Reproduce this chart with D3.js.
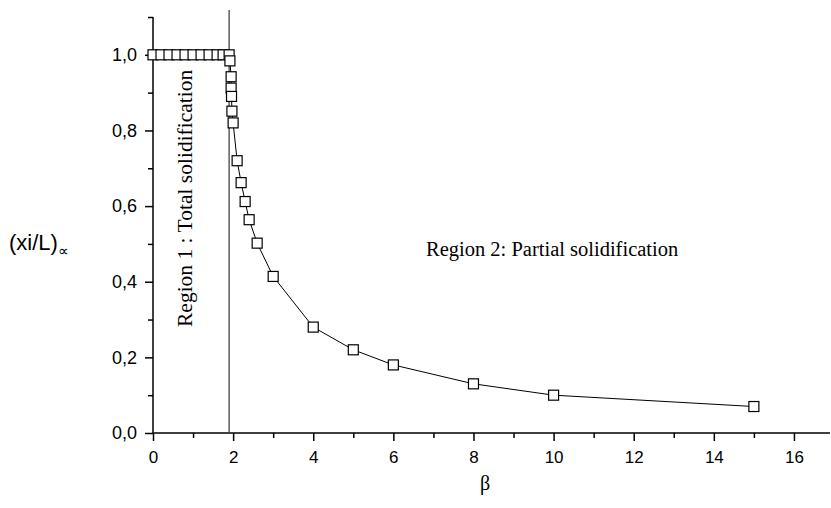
<!DOCTYPE html>
<html>
<head>
<meta charset="utf-8">
<script src="https://cdn.jsdelivr.net/npm/d3@7"></script>
<style>
  body { margin: 0; background: #fff; }
  svg { display: block; }
</style>
</head>
<body>
<div id="chart"></div>
<script>
// values
const beta = [0, 0.2, 0.4, 0.6, 0.8, 1.0, 1.2, 1.4, 1.6, 1.75, 1.9,
              1.92, 1.95, 1.95, 1.96, 1.97, 2.0, 2.1, 2.2, 2.3, 2.4, 2.6, 3, 4, 5, 6, 8, 10, 15];
const xiL = [1, 1, 1, 1, 1, 1, 1, 1, 1, 1, 1,
             0.984, 0.942, 0.912, 0.89, 0.851, 0.82, 0.72, 0.662, 0.612, 0.564, 0.502, 0.414, 0.28, 0.22, 0.18, 0.13, 0.10, 0.07];
const xMajor = [0, 2, 4, 6, 8, 10, 12, 14, 16];
const xMinor = [1, 3, 5, 7, 9, 11, 13, 15];
const yMajor = [0, 0.2, 0.4, 0.6, 0.8, 1.0];
const yMinor = [0.1, 0.3, 0.5, 0.7, 0.9, 1.1];
const betaCritical = 1.9;

const width = 831, height = 508;
const points = beta.map((b, i) => ({ b: b, v: xiL[i] }));

const svg = d3.select("#chart").append("svg")
    .attr("width", width)
    .attr("height", height);

const x = d3.scaleLinear().domain([0, 16.9]).range([153, 830]);
const y = d3.scaleLinear().domain([0, 1.1]).range([433, 17]);
const fmt = d => d3.format(".1f")(d).replace(".", ",");

// x axis
const xAxis = svg.append("g").attr("transform", `translate(0,${y(0)})`);
xAxis.call(d3.axisBottom(x).tickValues(xMajor).tickSize(8).tickFormat(d3.format("d")))
    .call(g => g.select(".domain").remove());
xAxis.append("g").call(d3.axisBottom(x).tickValues(xMinor).tickSize(5).tickFormat(""))
    .call(g => g.select(".domain").remove());
xAxis.append("line").attr("x1", x(0)).attr("x2", 830).attr("stroke", "#000").attr("stroke-width", 1.5);

// y axis
const yAxis = svg.append("g").attr("transform", `translate(${x(0)},0)`);
yAxis.call(d3.axisLeft(y).tickValues(yMajor).tickSize(8).tickFormat(fmt))
    .call(g => g.select(".domain").remove());
yAxis.append("g").call(d3.axisLeft(y).tickValues(yMinor).tickSize(5).tickFormat(""))
    .call(g => g.select(".domain").remove());
yAxis.append("line").attr("y1", y(0)).attr("y2", y(1.1)).attr("stroke", "#000").attr("stroke-width", 1.5);

svg.selectAll(".tick line").attr("stroke", "#000").attr("stroke-width", 1.5);
svg.selectAll(".tick text")
    .attr("font-family", "Liberation Sans, Arial, sans-serif")
    .attr("fill", "#000");
xAxis.selectAll(".tick text").attr("font-size", 17).attr("y", 30).attr("dy", 0);
yAxis.selectAll(".tick text").attr("font-size", 18).attr("x", -16);

// boundary between the two regions
svg.append("line")
    .attr("x1", x(betaCritical)).attr("x2", x(betaCritical))
    .attr("y1", 10).attr("y2", y(0))
    .attr("stroke", "#444")
    .attr("stroke-width", 1.3);

// curve and markers
svg.append("path")
    .datum(points)
    .attr("fill", "none")
    .attr("stroke", "#000")
    .attr("stroke-width", 1)
    .attr("d", d3.line().x(d => x(d.b)).y(d => y(d.v)));

svg.selectAll("rect.pt")
    .data(points)
    .enter()
    .append("rect")
    .attr("class", "pt")
    .attr("x", d => x(d.b) - 5)
    .attr("y", d => y(d.v) - 5)
    .attr("width", 10)
    .attr("height", 10)
    .attr("fill", "#fff")
    .attr("stroke", "#000")
    .attr("stroke-width", 1.2);

// annotations
svg.append("text")
    .attr("transform", `translate(192,327) rotate(-90)`)
    .attr("font-family", "Liberation Serif, Times New Roman, serif")
    .attr("font-size", 21.5)
    .text("Region 1 : Total solidification");

svg.append("text")
    .attr("x", 426).attr("y", 256)
    .attr("font-family", "Liberation Serif, Times New Roman, serif")
    .attr("font-size", 20.5)
    .text("Region 2: Partial solidification");

// axis titles
svg.append("text")
    .attr("x", 485).attr("y", 490)
    .attr("text-anchor", "middle")
    .attr("font-family", "Liberation Serif, Times New Roman, serif")
    .attr("font-size", 20)
    .text("β");

const yl = svg.append("text")
    .attr("x", 9).attr("y", 250)
    .attr("font-family", "Liberation Sans, Arial, sans-serif")
    .attr("font-size", 22);
yl.append("tspan").text("(xi/L)");
yl.append("tspan").attr("font-size", 15).attr("dy", 6).text("∝");
</script>
</body>
</html>
